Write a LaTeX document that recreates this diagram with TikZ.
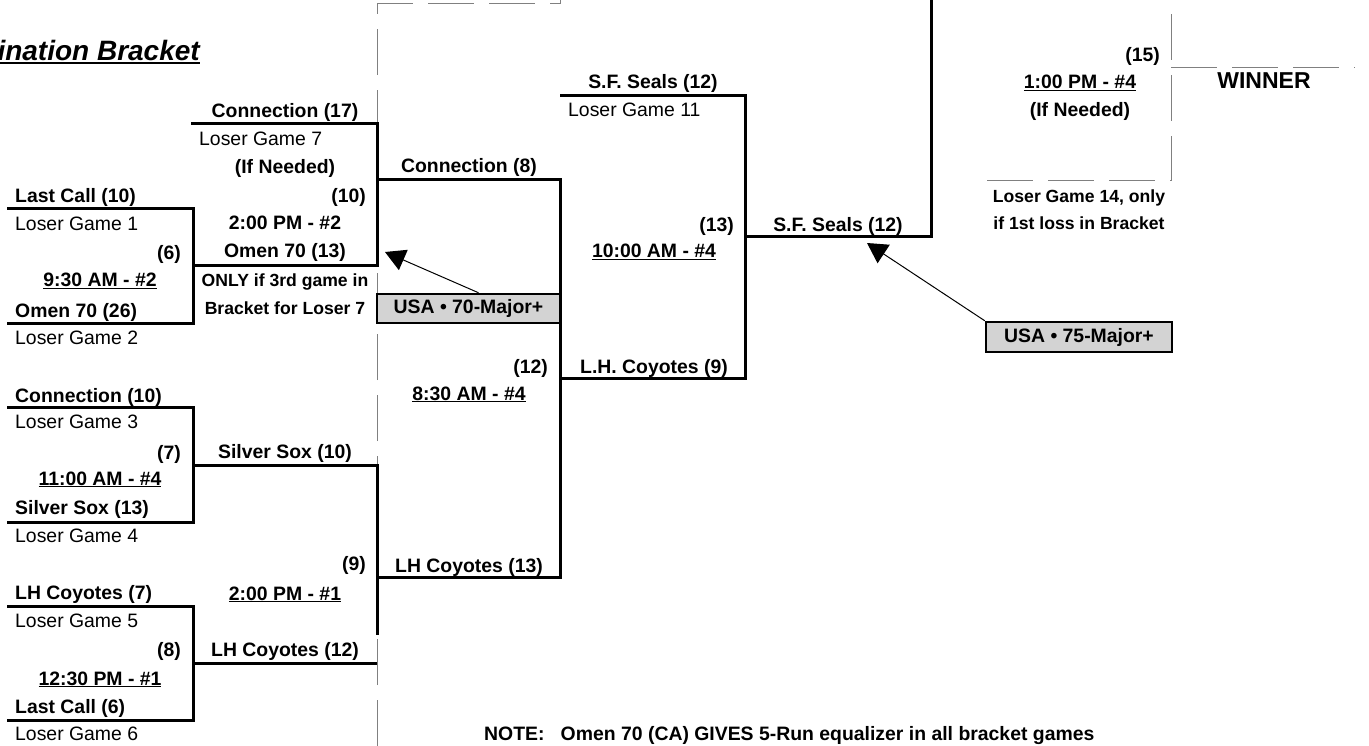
\documentclass[tikz,border=0pt]{standalone}
\usepackage{fontspec}
\setmainfont{Liberation Sans}
\usetikzlibrary{arrows.meta,positioning}
\definecolor{slotcol}{RGB}{128,128,128}
\definecolor{boxcol}{RGB}{211,211,211}
% underlined game time
\newcommand{\gameul}[1]{\setbox0=\hbox{#1}\rlap{\rule[-2.4pt]{\wd0}{1.6pt}}\box0}
\tikzset{
  % played bracket line
  bline/.style={line width=3pt, line join=miter},
  % open slot, not yet played
  gline/.style={draw=slotcol, line width=1pt, dash pattern=on 46pt off 15pt},
  % team and score labels
  team/.style={font=\bfseries\fontsize{19.4}{23}\selectfont, inner sep=0pt, anchor=base},
  % loser feed labels
  loser/.style={font=\fontsize{19.4}{23}\selectfont, inner sep=0pt, anchor=base west},
  % small bold notes
  notetext/.style={font=\bfseries\fontsize{17.6}{21}\selectfont, inner sep=0pt, anchor=base},
  % seed box
  seedbox/.style={draw, line width=2.5pt, fill=boxcol, inner sep=0pt,
                  font=\bfseries\fontsize{19.4}{23}\selectfont},
  % pointer arrow
  pointer/.style={-{Triangle[length=20pt,width=22pt]}, line width=1pt},
}
\begin{document}
\begin{tikzpicture}[x=1pt,y=-1pt]
  \useasboundingbox (0,0) rectangle (1369,746);

  % title
  \node[inner sep=0pt, anchor=base east, font=\bfseries\itshape\fontsize{28}{32}\selectfont]
    (title) at (200,61) {\setbox0=\hbox{ination Bracket}\rlap{\rule[-2.8pt]{\wd0}{2pt}}\box0};

  % open slots
  \coordinate (s1) at (377,746);
  \coordinate (s2) at (377,4);
  \coordinate (s3) at (560,4);
  \coordinate (s4) at (560,0);
  \draw[gline] (s1) -- (s2) -- (s3) -- (s4);
  \coordinate (w1) at (987,181);
  \coordinate (w2) at (1171,181);
  \coordinate (w3) at (1171,8);
  \coordinate (w4) at (1171,68);
  \coordinate (w5) at (1355,68);
  \draw[gline] (w1) -- (w2) -- (w3);
  \draw[gline] (w4) -- (w5);

  % first round
  \coordinate (g6a) at (7,209);   \coordinate (g6b) at (193,209);
  \coordinate (g6c) at (193,323); \coordinate (g6d) at (7,323);
  \coordinate (g6o) at (193,266);
  \coordinate (g7a) at (7,407);   \coordinate (g7b) at (193,407);
  \coordinate (g7c) at (193,522); \coordinate (g7d) at (7,522);
  \coordinate (g7o) at (193,465);
  \coordinate (g8a) at (7,606);   \coordinate (g8b) at (193,606);
  \coordinate (g8c) at (193,720); \coordinate (g8d) at (7,720);
  \coordinate (g8o) at (193,663);
  \draw[bline] (g6a) -- (g6b) -- (g6c) -- (g6d);
  \draw[bline] (g7a) -- (g7b) -- (g7c) -- (g7d);
  \draw[bline] (g8a) -- (g8b) -- (g8c) -- (g8d);

  % second round
  \coordinate (g10a) at (191,124); \coordinate (g10b) at (377,124);
  \coordinate (g10c) at (377,266); \coordinate (g10o) at (377,180);
  \coordinate (g9a) at (377,465);  \coordinate (g9b) at (377,635);
  \coordinate (g9c) at (377,663);  \coordinate (g9o) at (377,577);
  \draw[bline] (g10a) -- (g10b) -- (g10c) -- (g6o);
  \draw[bline] (g7o) -- (g9a) -- (g9b);
  \draw[bline] (g8o) -- (g9c);

  % third round
  \coordinate (g12a) at (560,180); \coordinate (g12b) at (560,577);
  \coordinate (g12o) at (560,378);
  \draw[bline] (g10o) -- (g12a) -- (g12b) -- (g9o);
  \coordinate (g13a) at (560,96);  \coordinate (g13b) at (745,96);
  \coordinate (g13c) at (745,378); \coordinate (g13o) at (745,237);
  \draw[bline] (g13a) -- (g13b) -- (g13c) -- (g12o);
  \coordinate (g14a) at (931,237); \coordinate (g14b) at (931,-5);
  \draw[bline] (g13o) -- (g14a) -- (g14b);

  % seed boxes and pointers
  \node[seedbox, minimum width=183pt, minimum height=29pt] (b70) at (468.5,308.5) {USA • 70-Major+};
  \node[seedbox, minimum width=186pt, minimum height=30pt] (b75) at (1079,337) {USA • 75-Major+};
  \coordinate (a70) at (385,252);
  \coordinate (a75) at (867,243);
  \draw[pointer] ([xshift=10pt]b70.north) -- (a70);
  \draw[pointer] (b75.north west) -- (a75);

  % first round labels
  \node[team, anchor=base west] (n1) at (15,203) {Last Call (10)};
  \node[loser] (l1) at (15,231) {Loser Game 1};
  \node[team, anchor=base east] (p6) at (181,260) {(6)};
  \node[team] (t6) at (100,287) {\gameul{9:30 AM - \#2}};
  \node[team, anchor=base west] (n2) at (15,317) {Omen 70 (26)};
  \node[loser] (l2) at (15,344) {Loser Game 2};
  \node[team, anchor=base west] (n3) at (15,402) {Connection (10)};
  \node[loser] (l3) at (15,428) {Loser Game 3};
  \node[team, anchor=base east] (p7) at (181,459) {(7)};
  \node[team] (t7) at (100,485) {\gameul{11:00 AM - \#4}};
  \node[team, anchor=base west] (n4) at (15,514) {Silver Sox (13)};
  \node[loser] (l4) at (15,542) {Loser Game 4};
  \node[team, anchor=base west] (n5) at (15,599) {LH Coyotes (7)};
  \node[loser] (l5) at (15,627) {Loser Game 5};
  \node[team, anchor=base east] (p8) at (181,656) {(8)};
  \node[team] (t8) at (100,685) {\gameul{12:30 PM - \#1}};
  \node[team, anchor=base west] (n6) at (15,713) {Last Call (6)};
  \node[loser] (l6) at (15,740) {Loser Game 6};

  % second round labels
  \node[team] (n7) at (285,118) {Connection (17)};
  \node[loser] (l7) at (199,146) {Loser Game 7};
  \node[team] (nd10) at (285,174) {(If Needed)};
  \node[team, anchor=base east] (p10) at (366,203) {(10)};
  \node[team] (t10) at (285,230) {2:00 PM - \#2};
  \node[team] (n8) at (285,258) {Omen 70 (13)};
  \node[notetext] (o1) at (285,287) {ONLY if 3rd game in};
  \node[notetext] (o2) at (285,315) {Bracket for Loser 7};
  \node[team] (n9) at (285,458) {Silver Sox (10)};
  \node[team, anchor=base east] (p9) at (366,570) {(9)};
  \node[team] (t9) at (285,600) {\gameul{2:00 PM - \#1}};
  \node[team] (n10) at (285,656) {LH Coyotes (12)};

  % third round labels
  \node[team] (n11) at (469,173) {Connection (8)};
  \node[team, anchor=base east] (p12) at (548,373) {(12)};
  \node[team] (t12) at (469,400) {\gameul{8:30 AM - \#4}};
  \node[team] (n12) at (469,572) {LH Coyotes (13)};
  \node[team] (n13) at (653,89) {S.F. Seals (12)};
  \node[loser] (l11) at (568,117) {Loser Game 11};
  \node[team, anchor=base east] (p13) at (734,232) {(13)};
  \node[team] (t13) at (654,258) {\gameul{10:00 AM - \#4}};
  \node[team] (n14) at (654,373) {L.H. Coyotes (9)};
  \node[team] (n15) at (838,232) {S.F. Seals (12)};

  % final
  \node[team, anchor=base east] (p15) at (1160,62) {(15)};
  \node[team] (t15) at (1080,89) {\gameul{1:00 PM - \#4}};
  \node[team] (nd15) at (1080,117) {(If Needed)};
  \node[notetext] (o3) at (1079,203) {Loser Game 14, only};
  \node[notetext] (o4) at (1079,230) {if 1st loss in Bracket};
  \node[team, font=\bfseries\fontsize{23}{27}\selectfont] (win) at (1264,89) {WINNER};

  % note
  \node[team, anchor=base west] (note) at (484,740) {NOTE:\ \ \ Omen 70 (CA) GIVES 5-Run equalizer in all bracket games};
\end{tikzpicture}
\end{document}
